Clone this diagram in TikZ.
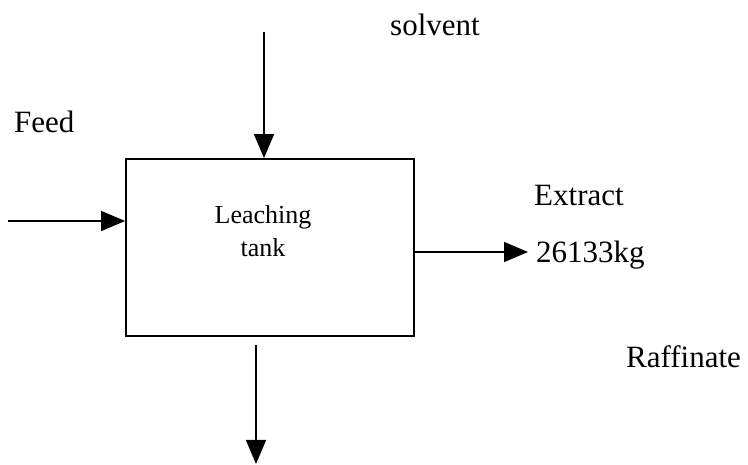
\documentclass[tikz,border=0pt]{standalone}
\usepackage{fontspec}
\setmainfont{Liberation Serif}
\usetikzlibrary{arrows.meta}
\begin{document}
\begin{tikzpicture}[x=1pt,y=-1pt,
  lbl/.style={font=\fontsize{31}{33}\selectfont, inner sep=0pt, anchor=base west},
  tankbox/.style={draw, line width=1.8pt, minimum width=288pt, minimum height=177pt, inner sep=0pt},
  flow/.style={line width=1.5pt, -{Triangle[length=24pt,width=20pt]}}]
\useasboundingbox (0,0) rectangle (748,465);
\node[tankbox] (tank) at (270,247.5) {};
\node[font=\fontsize{26}{33}\selectfont, align=center, inner sep=0pt, anchor=base] (tanklbl) at (263,257) {Leaching\\tank};
\node[lbl] (solvent) at (390,36) {solvent};
\node[lbl] (feed) at (14,133) {Feed};
\node[lbl] (extract) at (534,206) {Extract};
\node[lbl] (mass) at (536,263) {26133kg};
\node[lbl] (raff) at (626,368) {Raffinate};
\coordinate (sin) at (264,32);
\coordinate (fin) at (8,221);
\coordinate (ext) at (528,252);
\coordinate (rout) at (256,464);
\draw[flow] (sin) -- (tank.north -| sin);
\draw[flow] (fin) -- (tank.west |- fin);
\draw[flow] (tank.east |- ext) -- (ext);
\draw[flow, shorten <=8pt] (tank.south -| rout) -- (rout);
\end{tikzpicture}
\end{document}
